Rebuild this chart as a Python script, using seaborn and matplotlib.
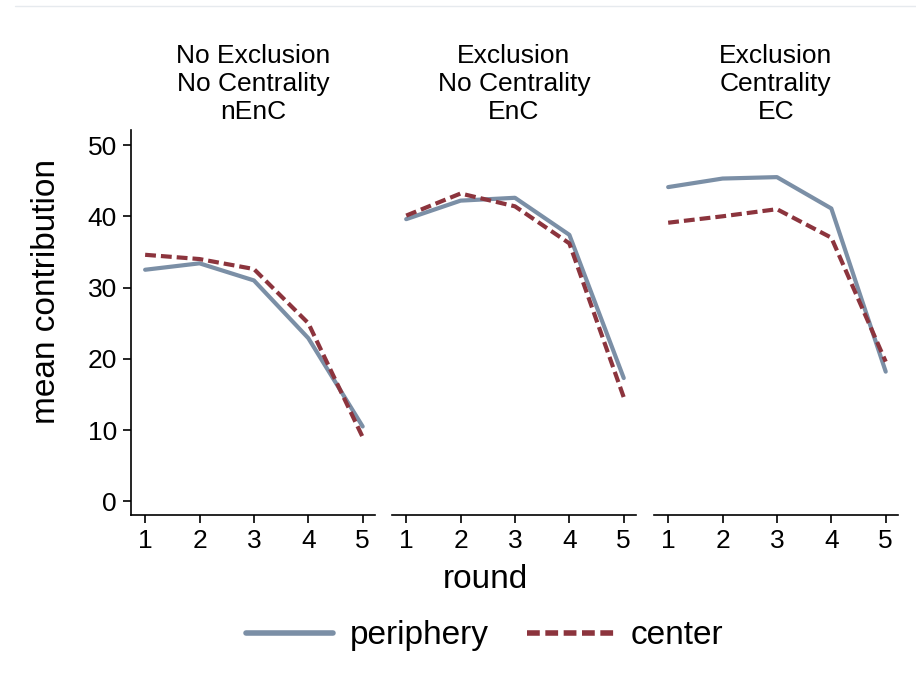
import pandas as pd
import numpy as np
import matplotlib
matplotlib.use("Agg")
import matplotlib.pyplot as plt
from matplotlib.lines import Line2D
import seaborn as sns

# values
rounds = [1, 2, 3, 4, 5]
treatments = ["nEnC", "EnC", "EC"]
titles = ["No Exclusion\nNo Centrality\nnEnC",
          "Exclusion\nNo Centrality\nEnC",
          "Exclusion\nCentrality\nEC"]
periphery = {
    "nEnC": [32.5, 33.4, 31.0, 22.9, 10.5],
    "EnC": [39.6, 42.2, 42.6, 37.4, 17.3],
    "EC": [44.1, 45.3, 45.5, 41.1, 18.2],
}
center = {
    "nEnC": [34.6, 34.0, 32.6, 25.0, 9.0],
    "EnC": [40.1, 43.2, 41.4, 36.2, 14.6],
    "EC": [39.1, 40.0, 41.0, 37.0, 19.6],
}

rows = []
for t in treatments:
    for r, p, c in zip(rounds, periphery[t], center[t]):
        rows.append({"treatment": t, "round": r, "group": "periphery", "contribution": p})
        rows.append({"treatment": t, "round": r, "group": "center", "contribution": c})
df = pd.DataFrame(rows)

sns.set_style("ticks")
plt.rcParams["font.family"] = ["Liberation Sans", "DejaVu Sans"]
plt.rcParams["text.color"] = "black"
plt.rcParams["axes.labelcolor"] = "black"
plt.rcParams["axes.edgecolor"] = "black"
plt.rcParams["xtick.color"] = "black"
plt.rcParams["ytick.color"] = "black"

colors = {"periphery": "#7b8fa6", "center": "#8c343d"}
dashes = {"periphery": "", "center": (2.6, 1.2)}

fig = plt.figure(figsize=(9.16, 6.92), dpi=100)
lefts = [0.143, 0.428, 0.714]
width = 0.266
bottom, height = 0.256, 0.556

for i, t in enumerate(treatments):
    ax = fig.add_axes([lefts[i], bottom, width, height])
    sns.lineplot(data=df[df["treatment"] == t], x="round", y="contribution",
                 hue="group", style="group", palette=colors, dashes=dashes,
                 linewidth=3, ax=ax, legend=False)
    ax.set_xlim(0.74, 5.22)
    ax.set_ylim(-1.9, 52.1)
    ax.set_xticks(rounds)
    ax.set_title(titles[i], fontsize=19, linespacing=1.2, pad=8, color="black")
    ax.tick_params(axis="both", direction="out", length=6, width=1.2,
                   labelsize=19, color="black", labelcolor="black", pad=4)
    ax.spines["top"].set_visible(False)
    ax.spines["right"].set_visible(False)
    ax.spines["bottom"].set_linewidth(1.2)
    ax.set_xlabel("")
    if i == 0:
        ax.set_yticks([0, 10, 20, 30, 40, 50])
        ax.spines["left"].set_linewidth(1.2)
        ax.set_ylabel("mean contribution", fontsize=24)
        ax.yaxis.set_label_coords(-0.283, 0.58)
    else:
        ax.spines["left"].set_visible(False)
        ax.set_yticks([])
        ax.set_ylabel("")
    if i == 1:
        ax.set_xlabel("round", fontsize=24)
        ax.xaxis.set_label_coords(0.384, -0.169)
        ax.xaxis.label.set_va("center")

handles = [Line2D([0], [0], color=colors["periphery"], lw=4),
           Line2D([0], [0], color=colors["center"], lw=4, dashes=(2.3, 1.0))]
fig.legend(handles, ["periphery", "center"], loc="center", bbox_to_anchor=(0.529, 0.081),
           ncol=2, frameon=False, fontsize=24, handlelength=2.6,
           handletextpad=0.5, columnspacing=1.15)

fig.add_artist(Line2D([0.016, 1.0], [0.991, 0.991], color="#e6eaee", lw=1))

fig.savefig("out.png", dpi=100, facecolor="white")
